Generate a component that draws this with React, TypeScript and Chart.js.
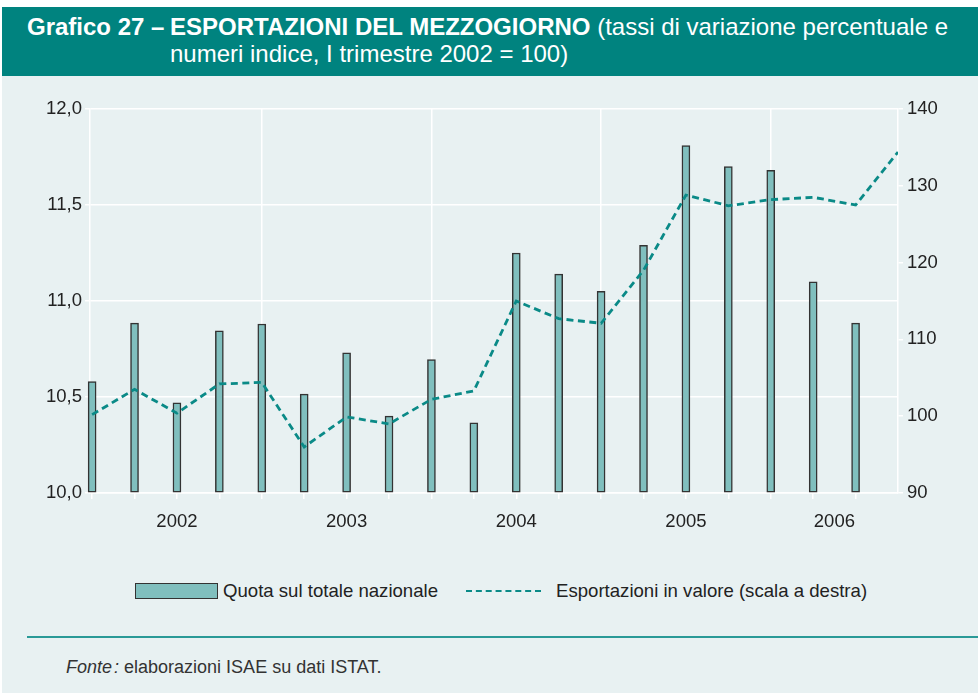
import React, { useEffect, useRef } from "react";
import { Chart, registerables } from "chart.js";

Chart.register(...registerables);

const quarters = [
  "2002 I", "2002 II", "2002 III", "2002 IV",
  "2003 I", "2003 II", "2003 III", "2003 IV",
  "2004 I", "2004 II", "2004 III", "2004 IV",
  "2005 I", "2005 II", "2005 III", "2005 IV",
  "2006 I", "2006 II", "2006 III", "2006 IV",
];
const quotaValues = [
  10.58, 10.885, 10.47, 10.845, 10.88, 10.515, 10.73, 10.40, 10.695, 10.365,
  11.25, 11.14, 11.05, 11.29, 11.81, 11.70, 11.68, 11.10, 10.885,
];
const exportValues = [
  100.2, 103.5, 100.4, 104.2, 104.4, 96.0, 99.9, 99.0, 102.2, 103.3,
  115.0, 112.7, 112.1, 119.0, 128.8, 127.4, 128.2, 128.5, 127.5, 134.4,
];
const yearLabels = ["2002", "2003", "2004", "2005", "2006"];
const yearLabelPositions = [2, 6, 10, 14, 17.5];
const leftTicks = [10.0, 10.5, 11.0, 11.5, 12.0];
const rightTicks = [90, 100, 110, 120, 130, 140];

const TEAL = "#00837f";
const BG = "#e8f1f2";
const BAR = "#80bfbe";
const FONT = "'Liberation Sans', Arial, Helvetica, sans-serif";

export default function App() {
  const ref = useRef<HTMLCanvasElement | null>(null);

  useEffect(() => {
    if (!ref.current) return;
    const lastIdx = quarters.length - 1;
    const chart = new Chart(ref.current, {
      type: "bar",
      data: {
        datasets: [
          {
            type: "line",
            label: "Esportazioni in valore (scala a destra)",
            data: exportValues.map((v, i) => ({ x: i, y: v })),
            xAxisID: "x",
            yAxisID: "y1",
            borderColor: "#0a8a87",
            borderWidth: 2.8,
            borderDash: [7, 4.5],
            pointRadius: 0,
            tension: 0,
            fill: false,
            order: 0,
          } as any,
          {
            type: "bar",
            label: "Quota sul totale nazionale",
            data: quotaValues.map((v, i) => ({ x: i, y: v })),
            xAxisID: "x",
            yAxisID: "y",
            base: 10,
            backgroundColor: BAR,
            borderColor: "#333333",
            borderWidth: 1.5,
            borderSkipped: false,
            barThickness: 8,
            clip: { left: 10, top: 5, right: 5, bottom: 0 },
            order: 1,
          } as any,
        ],
      },
      options: {
        responsive: false,
        animation: false,
        devicePixelRatio: 1,
        layout: { padding: { top: 19, left: 0, right: 0, bottom: 0 } },
        plugins: {
          legend: { display: false },
          tooltip: { enabled: false },
        },
        scales: {
          x: {
            type: "linear",
            position: "bottom",
            min: -0.05,
            max: lastIdx,
            offset: false,
            afterBuildTicks: (scale: any) => {
              const vals: number[] = [];
              for (let i = 0; i < lastIdx; i++) vals.push(i);
              yearLabelPositions.forEach((p) => {
                if (!vals.includes(p)) vals.push(p);
              });
              vals.sort((a, b) => a - b);
              scale.ticks = vals.map((v) => ({ value: v }));
            },
            afterFit: (scale: any) => {
              scale.height = 57;
            },
            ticks: {
              autoSkip: false,
              maxRotation: 0,
              minRotation: 0,
              padding: 12,
              color: "#222",
              font: { family: FONT, size: 18.5 },
              callback: (value: any) => {
                const idx = yearLabelPositions.indexOf(Number(value));
                return idx >= 0 ? yearLabels[idx] : "";
              },
            },
            grid: {
              offset: false,
              drawOnChartArea: true,
              lineWidth: 1.5,
              tickLength: 6,
              color: (ctx: any) => {
                const v = ctx.tick ? ctx.tick.value : -1;
                return Number.isInteger(v) && v > 0 && v % 4 === 0 ? "#ffffff" : "rgba(0,0,0,0)";
              },
              tickColor: (ctx: any) => {
                const v = ctx.tick ? ctx.tick.value : -1;
                return Number.isInteger(v) ? "#ffffff" : "rgba(0,0,0,0)";
              },
            } as any,
            border: { display: true, color: "#ffffff", width: 1.5 },
          },
          y: {
            type: "linear",
            position: "left",
            min: 10,
            max: 12,
            afterBuildTicks: (scale: any) => {
              scale.ticks = leftTicks.map((v) => ({ value: v }));
            },
            afterFit: (scale: any) => {
              scale.width = 90;
            },
            ticks: {
              padding: 3,
              color: "#222",
              font: { family: FONT, size: 18.5 },
              callback: (value: any) => Number(value).toFixed(1).replace(".", ","),
            },
            grid: {
              color: "#ffffff",
              lineWidth: 1.5,
              tickLength: 5,
              tickColor: "#ffffff",
            },
            border: { display: true, color: "#ffffff", width: 1.5 },
          },
          y1: {
            type: "linear",
            position: "right",
            min: 90,
            max: 140,
            afterBuildTicks: (scale: any) => {
              scale.ticks = rightTicks.map((v) => ({ value: v }));
            },
            afterFit: (scale: any) => {
              scale.width = 80;
            },
            ticks: {
              padding: 4,
              color: "#222",
              font: { family: FONT, size: 18.5 },
              callback: (value: any) => String(value),
            },
            grid: {
              drawOnChartArea: false,
              lineWidth: 1.5,
              tickLength: 5,
              tickColor: "#ffffff",
            },
            border: { display: true, color: "#ffffff", width: 1.5 },
          },
        },
      } as any,
    });
    return () => chart.destroy();
  }, []);

  return (
    <div
      style={{
        position: "absolute",
        left: 0,
        top: 0,
        width: 978,
        height: 693,
        background: "#ffffff",
        fontFamily: FONT,
        overflow: "hidden",
      }}
    >
      <div
        style={{
          position: "absolute",
          left: 2,
          top: 7,
          width: 976,
          height: 686,
          background: BG,
        }}
      />
      <div
        style={{
          position: "absolute",
          left: 2,
          top: 7,
          width: 976,
          height: 69,
          background: TEAL,
          color: "#ffffff",
          fontSize: 24,
          lineHeight: "27px",
        }}
      >
        <div style={{ position: "absolute", left: 25, top: 6, fontWeight: "bold", whiteSpace: "nowrap" }}>
          Grafico 27 –
        </div>
        <div style={{ position: "absolute", left: 168, top: 6, whiteSpace: "nowrap" }}>
          <span style={{ fontWeight: "bold" }}>ESPORTAZIONI DEL MEZZOGIORNO</span> (tassi di variazione percentuale e
          <br />
          numeri indice, I trimestre 2002 = 100)
        </div>
      </div>
      <canvas
        ref={ref}
        width={978}
        height={460}
        style={{ position: "absolute", left: 0, top: 90, width: 978, height: 460 }}
      />
      <div
        style={{
          position: "absolute",
          left: 135,
          top: 583,
          width: 81,
          height: 14,
          background: BAR,
          border: "1px solid #333",
        }}
      />
      <div
        style={{
          position: "absolute",
          left: 223,
          top: 579,
          fontSize: 18.6,
          lineHeight: "24px",
          color: "#222",
          whiteSpace: "nowrap",
        }}
      >
        Quota sul totale nazionale
      </div>
      <div
        style={{
          position: "absolute",
          left: 466,
          top: 590,
          width: 75,
          height: 0,
          borderTop: "2.5px dashed #0a8a87",
        }}
      />
      <div
        style={{
          position: "absolute",
          left: 556,
          top: 579,
          fontSize: 18.6,
          lineHeight: "24px",
          color: "#222",
          whiteSpace: "nowrap",
        }}
      >
        Esportazioni in valore (scala a destra)
      </div>
      <div
        style={{
          position: "absolute",
          left: 27,
          top: 636,
          width: 951,
          height: 2,
          background: "#2a9a97",
        }}
      />
      <div
        style={{
          position: "absolute",
          left: 66,
          top: 656,
          fontSize: 18,
          lineHeight: "22px",
          color: "#333",
          whiteSpace: "nowrap",
        }}
      >
        <i>Fonte</i>
        <span style={{ fontStyle: "italic", marginLeft: 2 }}>:</span> elaborazioni ISAE su dati ISTAT.
      </div>
    </div>
  );
}
